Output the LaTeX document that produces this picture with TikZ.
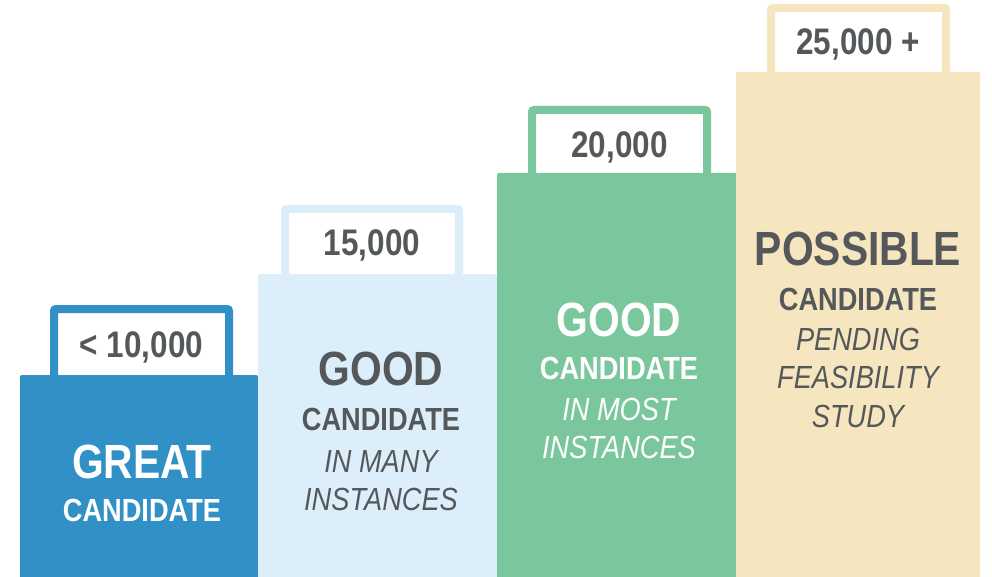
\documentclass[tikz,border=0pt]{standalone}
\usepackage{fontspec}
\setmainfont{Liberation Sans}[FakeStretch=0.85]
\definecolor{stepblue}{HTML}{3190C5}
\definecolor{steplight}{HTML}{DDEEFB}
\definecolor{stepgreen}{HTML}{7AC79E}
\definecolor{stepsand}{HTML}{F5E6BF}
\definecolor{inkgray}{HTML}{54585B}
\begin{document}
\begin{tikzpicture}[x=1pt,y=-1pt,
  column/.style={fill=#1, rounded corners=2pt},
  tag/.style={draw=#1, line width=8pt, fill=white, rounded corners=2pt},
  txt/.style={anchor=base, inner sep=0pt, text=#1},
  num/.style={txt=inkgray, font=\bfseries\fontsize{37}{40}\selectfont},
  big/.style={txt=#1, font=\bfseries\fontsize{48}{52}\selectfont},
  mid/.style={txt=#1, font=\bfseries\fontsize{32}{36}\selectfont},
  ital/.style={txt=#1, font=\itshape\fontsize{32}{36}\selectfont}]
\useasboundingbox (0,0) rectangle (992,577);

% value tags sitting on top of each column
\draw[tag=stepblue]  (54,309) rectangle (229,385);
\draw[tag=steplight] (285,209) rectangle (459,283);
\draw[tag=stepgreen] (532,110) rectangle (707,183);
\draw[tag=stepsand]  (771,8)   rectangle (946,82);

% the four columns
\fill[column=stepblue]  (20,375)  rectangle (258,580);
\fill[column=steplight] (258,274) rectangle (497,580);
\fill[column=stepgreen] (497,173) rectangle (737,580);
\fill[column=stepsand]  (736,72)  rectangle (980,580);

% tag values
\node[num] (v1) at (141.5,357) {< 10,000};
\node[num] (v2) at (372,255) {15,000};
\node[num] (v3) at (619.5,158) {20,000};
\node[num] (v4) at (858,55) {25,000 +};

% column 1
\node[big=white] (g1) at (142,478) {GREAT};
\node[mid=white] (c1) at (142,521) {CANDIDATE};

% column 2
\node[big=inkgray] (g2) at (381,385) {GOOD};
\node[mid=inkgray] (c2) at (381,430) {CANDIDATE};
\node[ital=inkgray] (i2a) at (381,472) {IN MANY};
\node[ital=inkgray] (i2b) at (381,510) {INSTANCES};

% column 3
\node[big=white] (g3) at (619,336) {GOOD};
\node[mid=white] (c3) at (619,379) {CANDIDATE};
\node[ital=white] (i3a) at (619,420) {IN MOST};
\node[ital=white] (i3b) at (619,458) {INSTANCES};

% column 4
\node[big=inkgray] (g4) at (858,265) {POSSIBLE};
\node[mid=inkgray] (c4) at (858,310) {CANDIDATE};
\node[ital=inkgray] (i4a) at (858,350) {PENDING};
\node[ital=inkgray] (i4b) at (858,388) {FEASIBILITY};
\node[ital=inkgray] (i4c) at (858,427) {STUDY};
\end{tikzpicture}
\end{document}
